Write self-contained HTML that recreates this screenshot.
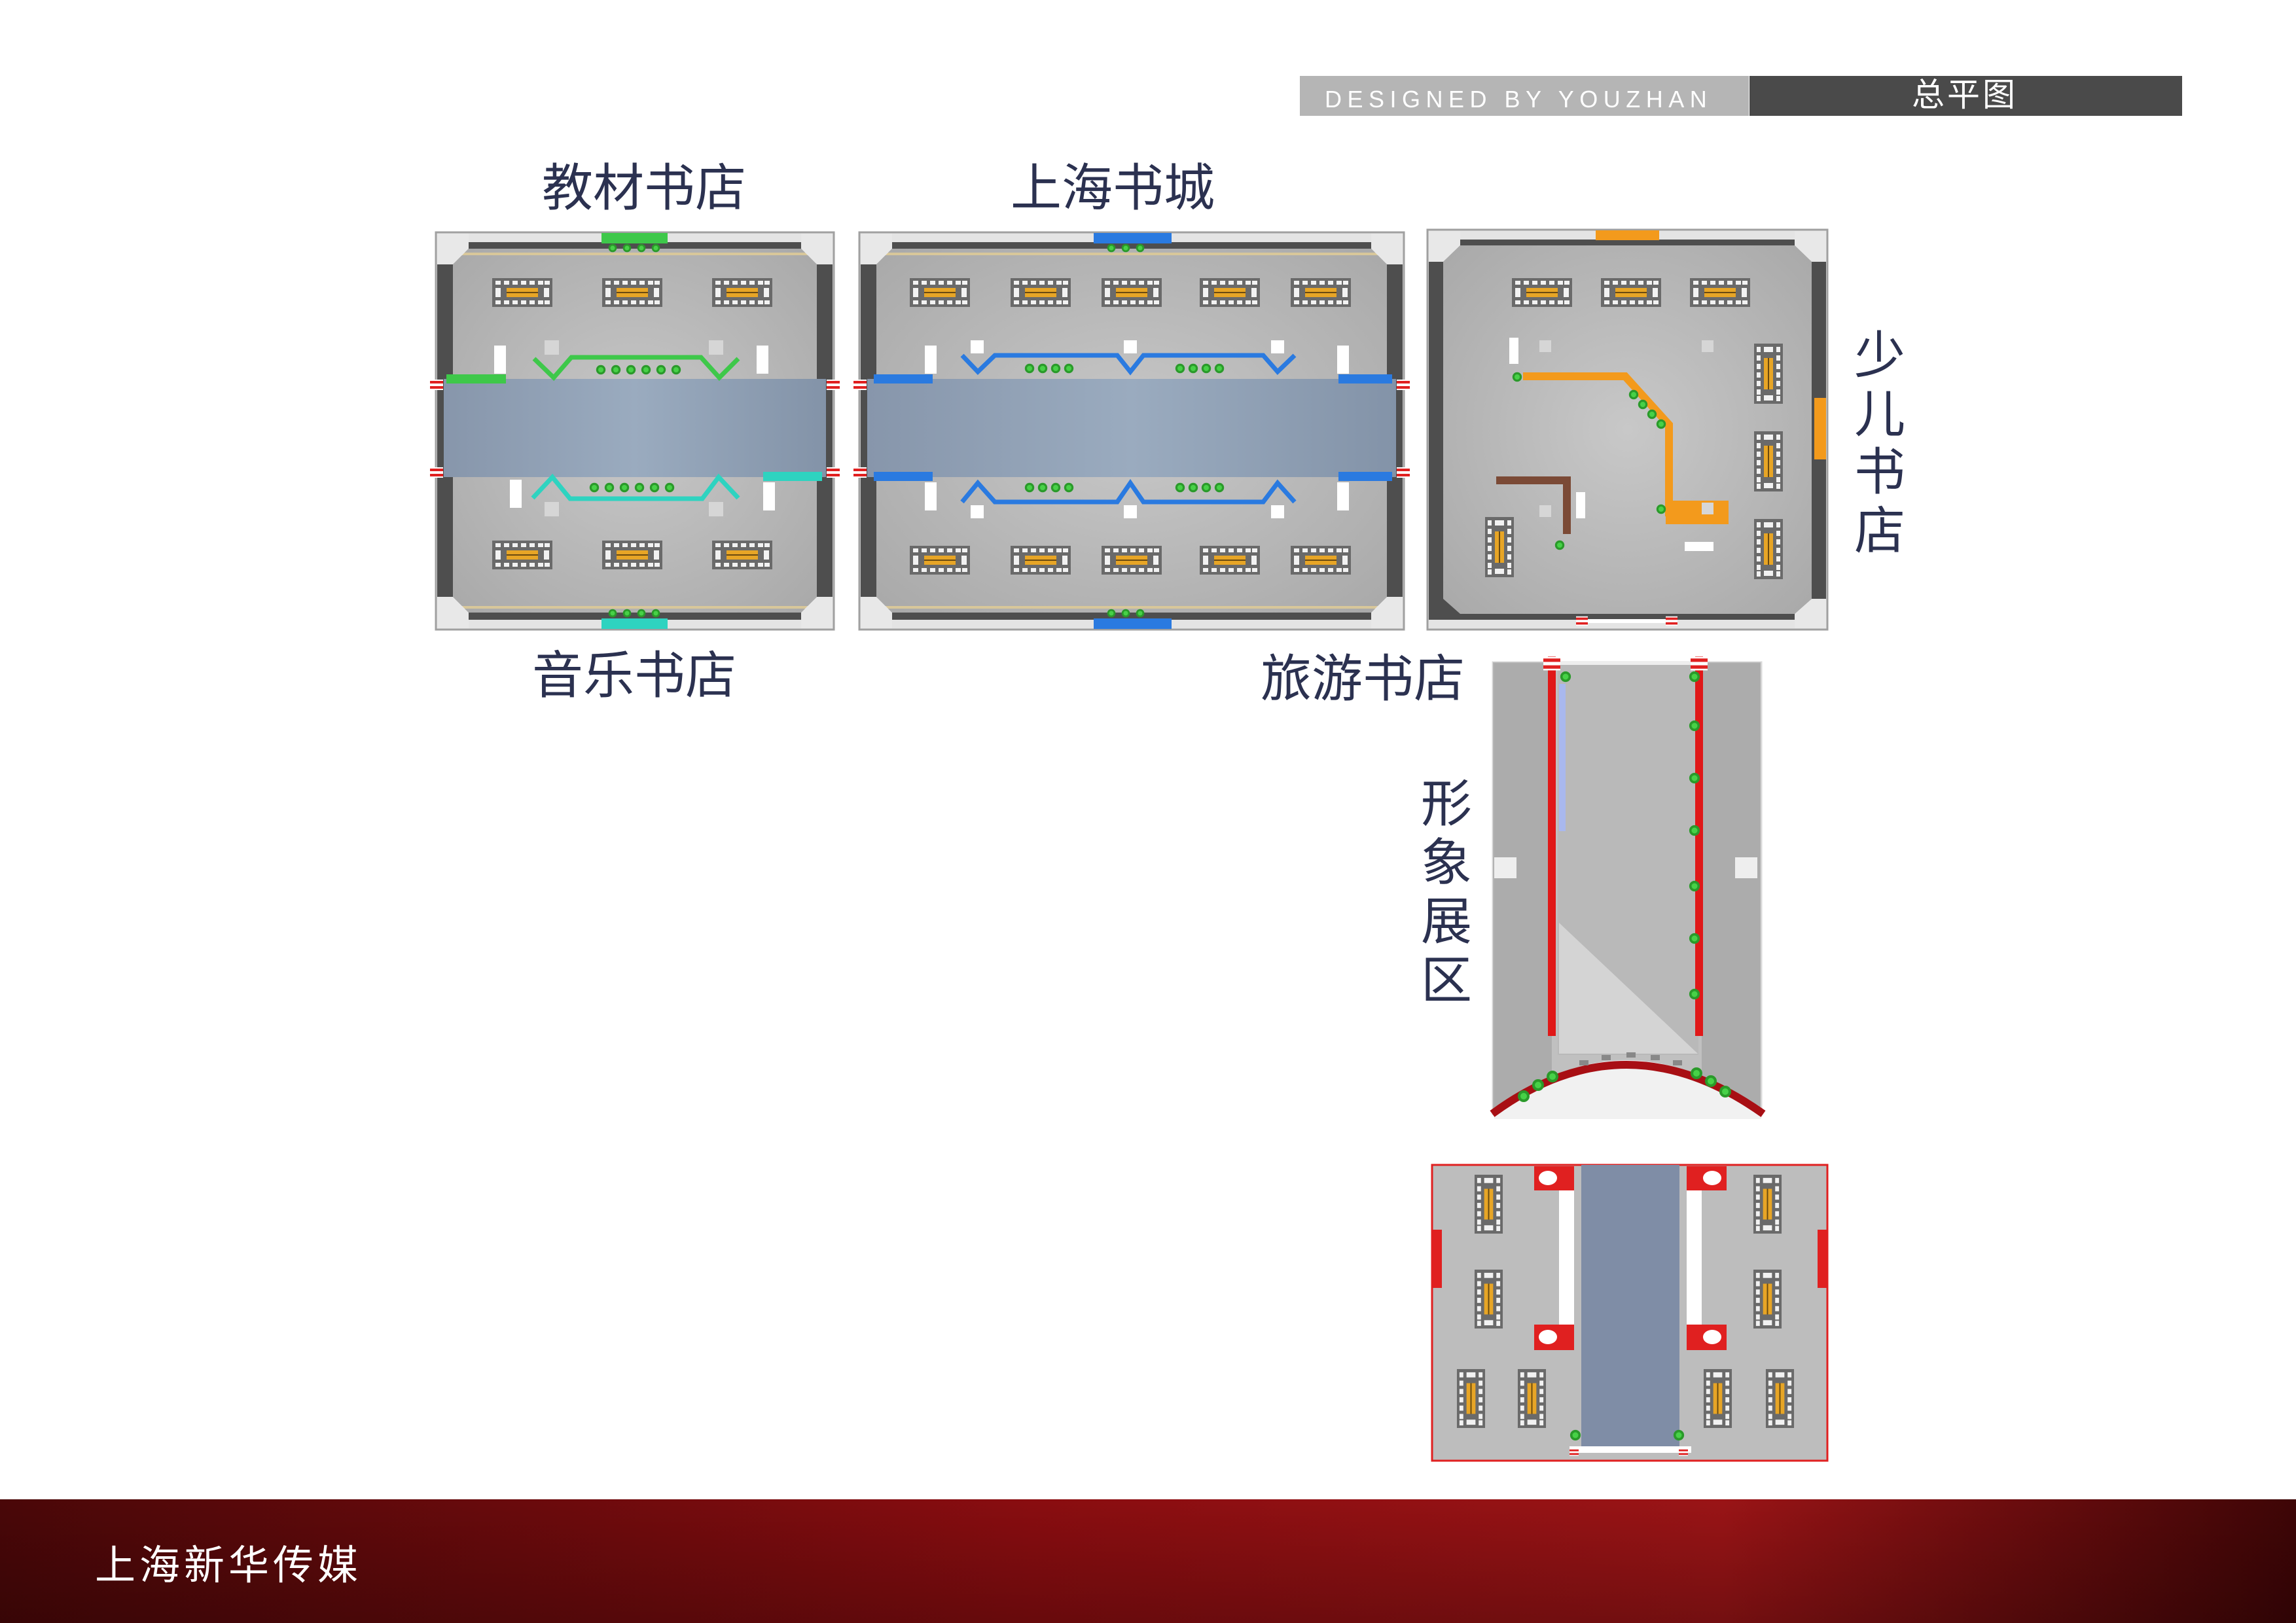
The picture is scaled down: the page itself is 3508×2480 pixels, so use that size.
<!DOCTYPE html>
<html><head><meta charset="utf-8">
<style>
html,body{margin:0;padding:0;background:#fff;}
svg{display:block;}
text{font-family:"Liberation Sans","Noto Sans CJK SC",sans-serif;}
</style></head>
<body>
<svg width="3508" height="2480" viewBox="0 0 3508 2480" xmlns="http://www.w3.org/2000/svg">
<defs>
<linearGradient id="foot" x1="0" x2="1" y1="0" y2="0">
<stop offset="0" stop-color="#4a0708"/><stop offset="0.45" stop-color="#8a0d10"/><stop offset="0.75" stop-color="#9a1416"/><stop offset="1" stop-color="#3e0506"/>
</linearGradient>
<linearGradient id="footv" x1="0" x2="0" y1="0" y2="1">
<stop offset="0" stop-color="#000" stop-opacity="0"/><stop offset="1" stop-color="#000" stop-opacity="0.25"/>
</linearGradient>
<radialGradient id="floor" cx="0.5" cy="0.5" r="0.7">
<stop offset="0" stop-color="#c8c8c8"/><stop offset="1" stop-color="#a9a9a9"/>
</radialGradient>
<linearGradient id="aisle" x1="0" x2="1"><stop offset="0" stop-color="#8796ab"/><stop offset="0.5" stop-color="#9aabbf"/><stop offset="1" stop-color="#8393a8"/></linearGradient>
<symbol id="shH" viewBox="0 0 92 44">
<rect width="92" height="44" fill="#6a6a6a"/>
<g fill="#f2f2f2"><rect x="5" y="4" width="8" height="6"/><rect x="18" y="4" width="8" height="6"/><rect x="31" y="4" width="8" height="6"/><rect x="44" y="4" width="8" height="6"/><rect x="57" y="4" width="8" height="6"/><rect x="70" y="4" width="8" height="6"/><rect x="80" y="4" width="8" height="6"/>
<rect x="5" y="34" width="8" height="6"/><rect x="18" y="34" width="8" height="6"/><rect x="31" y="34" width="8" height="6"/><rect x="44" y="34" width="8" height="6"/><rect x="57" y="34" width="8" height="6"/><rect x="70" y="34" width="8" height="6"/><rect x="80" y="34" width="8" height="6"/>
<rect x="5" y="15" width="8" height="14"/><rect x="79" y="15" width="8" height="14"/></g>
<rect x="22" y="15" width="48" height="14" fill="#e7a526"/>
<rect x="22" y="21" width="48" height="2" fill="#6a4a10"/>
</symbol>
<symbol id="shV" viewBox="0 0 44 92">
<rect width="44" height="92" fill="#6a6a6a"/>
<g fill="#f2f2f2"><rect x="4" y="5" width="6" height="8"/><rect x="4" y="18" width="6" height="8"/><rect x="4" y="31" width="6" height="8"/><rect x="4" y="44" width="6" height="8"/><rect x="4" y="57" width="6" height="8"/><rect x="4" y="70" width="6" height="8"/><rect x="4" y="80" width="6" height="8"/>
<rect x="34" y="5" width="6" height="8"/><rect x="34" y="18" width="6" height="8"/><rect x="34" y="31" width="6" height="8"/><rect x="34" y="44" width="6" height="8"/><rect x="34" y="57" width="6" height="8"/><rect x="34" y="70" width="6" height="8"/><rect x="34" y="80" width="6" height="8"/>
<rect x="15" y="5" width="14" height="8"/><rect x="15" y="79" width="14" height="8"/></g>
<rect x="15" y="22" width="14" height="48" fill="#e7a526"/>
<rect x="21" y="22" width="2" height="48" fill="#6a4a10"/>
</symbol>
<symbol id="tree" viewBox="0 0 20 20"><circle cx="10" cy="10" r="9" fill="#2a9a2a"/><circle cx="10" cy="10" r="5" fill="#47d147"/></symbol>
<symbol id="door" viewBox="0 0 20 16"><rect width="20" height="16" fill="#fff"/><rect y="2" width="20" height="4" fill="#e02020"/><rect y="10" width="20" height="4" fill="#e02020"/></symbol>
</defs>

<!-- header -->
<rect x="1986" y="116" width="686" height="61" fill="#b5b5b5"/>
<text x="2024" y="164" font-size="36" fill="#fff" letter-spacing="8.5">DESIGNED  BY  YOUZHAN</text>
<rect x="2673" y="116" width="661" height="61" fill="#4a4a4a"/>
<text x="3002" y="162" font-size="50" fill="#fff" text-anchor="middle" letter-spacing="4">总平图</text>

<!-- labels -->
<g font-size="78" fill="#2b3150" text-anchor="middle">
<text x="984" y="314">教材书店</text>
<text x="1700" y="314">上海书城</text>
<text x="969" y="1059">音乐书店</text>
<text x="2082" y="1064">旅游书店</text>
<text x="2872" y="570">少</text><text x="2872" y="660">儿</text><text x="2872" y="748">书</text><text x="2872" y="838">店</text>
<text x="2210" y="1255">形</text><text x="2210" y="1345">象</text><text x="2210" y="1435">展</text><text x="2210" y="1525">区</text>
</g>

<!-- Panel A 教材/音乐 -->
<g>
<rect x="666" y="355" width="608" height="607" fill="#e4e4e4" stroke="#a0a0a0" stroke-width="3"/>
<rect x="692" y="370" width="556" height="577" fill="#4e4e4e"/>
<rect x="668" y="380" width="604" height="556" fill="#4e4e4e"/>
<polygon points="716,380 1224,380 1248,404 1248,912 1224,936 716,936 692,912 692,404" fill="url(#floor)"/>
<rect x="698" y="386" width="544" height="4" fill="#d8c79a"/>
<rect x="698" y="926" width="544" height="4" fill="#d8c79a"/>
<rect x="678" y="579" width="584" height="150" fill="url(#aisle)"/>
<rect x="919" y="356" width="101" height="16" fill="#3ec84a"/>
<rect x="919" y="945" width="101" height="16" fill="#2ed3c0"/>
<rect x="682" y="572" width="91" height="14" fill="#3ec84a"/>
<rect x="1166" y="721" width="90" height="14" fill="#2ed3c0"/>
<use href="#door" x="656" y="580" width="22" height="16"/><use href="#door" x="656" y="714" width="22" height="16"/>
<use href="#door" x="1262" y="580" width="22" height="16"/><use href="#door" x="1262" y="714" width="22" height="16"/>
<use href="#shH" x="752" y="425" width="92" height="44"/><use href="#shH" x="920" y="425" width="92" height="44"/><use href="#shH" x="1088" y="425" width="92" height="44"/>
<use href="#shH" x="752" y="826" width="92" height="44"/><use href="#shH" x="920" y="826" width="92" height="44"/><use href="#shH" x="1088" y="826" width="92" height="44"/>
<polyline points="816,548 846,577 873,546 1071,546 1099,577 1128,548" fill="none" stroke="#3ec84a" stroke-width="7"/>
<polyline points="814,761 844,729 871,762 1073,762 1098,729 1128,761" fill="none" stroke="#2ed3c0" stroke-width="7"/>
<g fill="#fff"><rect x="755" y="528" width="18" height="43"/><rect x="1156" y="528" width="18" height="43"/><rect x="779" y="733" width="18" height="43"/><rect x="1166" y="737" width="18" height="43"/></g>
<g fill="#d6d6d6"><rect x="832" y="520" width="22" height="22"/><rect x="1083" y="520" width="22" height="22"/><rect x="832" y="767" width="22" height="22"/><rect x="1083" y="767" width="22" height="22"/></g>
<g><use href="#tree" x="910" y="557" width="16" height="16"/><use href="#tree" x="933" y="557" width="16" height="16"/><use href="#tree" x="956" y="557" width="16" height="16"/><use href="#tree" x="979" y="557" width="16" height="16"/><use href="#tree" x="1002" y="557" width="16" height="16"/><use href="#tree" x="1025" y="557" width="16" height="16"/>
<use href="#tree" x="900" y="737" width="16" height="16"/><use href="#tree" x="923" y="737" width="16" height="16"/><use href="#tree" x="946" y="737" width="16" height="16"/><use href="#tree" x="969" y="737" width="16" height="16"/><use href="#tree" x="992" y="737" width="16" height="16"/><use href="#tree" x="1015" y="737" width="16" height="16"/>
<use href="#tree" x="928" y="372" width="16" height="14"/><use href="#tree" x="950" y="372" width="16" height="14"/><use href="#tree" x="972" y="372" width="16" height="14"/><use href="#tree" x="994" y="372" width="16" height="14"/>
<use href="#tree" x="928" y="930" width="16" height="14"/><use href="#tree" x="950" y="930" width="16" height="14"/><use href="#tree" x="972" y="930" width="16" height="14"/><use href="#tree" x="994" y="930" width="16" height="14"/></g>
<g fill="#e8e8e8"><polygon points="668,357 716,357 716,380 692,404 668,404"/><polygon points="1272,357 1224,357 1224,380 1248,404 1272,404"/><polygon points="668,960 716,960 716,936 692,912 668,912"/><polygon points="1272,960 1224,960 1224,936 1248,912 1272,912"/></g>
</g>

<!-- Panel B 上海书城 -->
<g>
<rect x="1313" y="355" width="832" height="607" fill="#e4e4e4" stroke="#a0a0a0" stroke-width="3"/>
<rect x="1315" y="370" width="828" height="577" fill="#4e4e4e"/>
<polygon points="1363,380 2095,380 2119,404 2119,912 2095,936 1363,936 1339,912 1339,404" fill="url(#floor)"/>
<rect x="1345" y="386" width="768" height="4" fill="#d8c79a"/>
<rect x="1345" y="926" width="768" height="4" fill="#d8c79a"/>
<rect x="1325" y="579" width="808" height="150" fill="url(#aisle)"/>
<rect x="1671" y="356" width="119" height="16" fill="#2a7ae0"/>
<rect x="1671" y="945" width="119" height="16" fill="#2a7ae0"/>
<rect x="1335" y="572" width="90" height="14" fill="#2a7ae0"/><rect x="1335" y="721" width="90" height="14" fill="#2a7ae0"/>
<rect x="2045" y="572" width="82" height="14" fill="#2a7ae0"/><rect x="2045" y="721" width="82" height="14" fill="#2a7ae0"/>
<use href="#door" x="1303" y="580" width="22" height="16"/><use href="#door" x="1303" y="714" width="22" height="16"/>
<use href="#door" x="2133" y="580" width="22" height="16"/><use href="#door" x="2133" y="714" width="22" height="16"/>
<use href="#shH" x="1390" y="425" width="92" height="44"/><use href="#shH" x="1544" y="425" width="92" height="44"/><use href="#shH" x="1683" y="425" width="92" height="44"/><use href="#shH" x="1833" y="425" width="92" height="44"/><use href="#shH" x="1972" y="425" width="92" height="44"/>
<use href="#shH" x="1390" y="834" width="92" height="44"/><use href="#shH" x="1544" y="834" width="92" height="44"/><use href="#shH" x="1683" y="834" width="92" height="44"/><use href="#shH" x="1833" y="834" width="92" height="44"/><use href="#shH" x="1972" y="834" width="92" height="44"/>
<polyline points="1470,543 1494,568 1520,543 1707,543 1727,568 1747,543 1930,543 1952,568 1978,543" fill="none" stroke="#2a7ae0" stroke-width="7"/>
<polyline points="1470,767 1494,738 1520,767 1707,767 1727,738 1747,767 1930,767 1952,738 1978,767" fill="none" stroke="#2a7ae0" stroke-width="7"/>
<g fill="#fff"><rect x="1413" y="528" width="18" height="43"/><rect x="2043" y="528" width="18" height="43"/><rect x="1413" y="737" width="18" height="43"/><rect x="2043" y="737" width="18" height="43"/>
<rect x="1483" y="520" width="20" height="20"/><rect x="1717" y="520" width="20" height="20"/><rect x="1942" y="520" width="20" height="20"/><rect x="1483" y="772" width="20" height="20"/><rect x="1717" y="772" width="20" height="20"/><rect x="1942" y="772" width="20" height="20"/></g>
<g><use href="#tree" x="1565" y="555" width="16" height="16"/><use href="#tree" x="1585" y="555" width="16" height="16"/><use href="#tree" x="1605" y="555" width="16" height="16"/><use href="#tree" x="1625" y="555" width="16" height="16"/>
<use href="#tree" x="1795" y="555" width="16" height="16"/><use href="#tree" x="1815" y="555" width="16" height="16"/><use href="#tree" x="1835" y="555" width="16" height="16"/><use href="#tree" x="1855" y="555" width="16" height="16"/>
<use href="#tree" x="1565" y="737" width="16" height="16"/><use href="#tree" x="1585" y="737" width="16" height="16"/><use href="#tree" x="1605" y="737" width="16" height="16"/><use href="#tree" x="1625" y="737" width="16" height="16"/>
<use href="#tree" x="1795" y="737" width="16" height="16"/><use href="#tree" x="1815" y="737" width="16" height="16"/><use href="#tree" x="1835" y="737" width="16" height="16"/><use href="#tree" x="1855" y="737" width="16" height="16"/>
<use href="#tree" x="1690" y="372" width="16" height="14"/><use href="#tree" x="1712" y="372" width="16" height="14"/><use href="#tree" x="1734" y="372" width="16" height="14"/>
<use href="#tree" x="1690" y="930" width="16" height="14"/><use href="#tree" x="1712" y="930" width="16" height="14"/><use href="#tree" x="1734" y="930" width="16" height="14"/></g>
<g fill="#e8e8e8"><polygon points="1315,357 1363,357 1363,380 1339,404 1315,404"/><polygon points="2143,357 2095,357 2095,380 2119,404 2143,404"/><polygon points="1315,960 1363,960 1363,936 1339,912 1315,912"/><polygon points="2143,960 2095,960 2095,936 2119,912 2143,912"/></g>
</g>

<!-- Panel C 少儿 -->
<g>
<rect x="2181" y="351" width="611" height="611" fill="#e4e4e4" stroke="#a0a0a0" stroke-width="3"/>
<rect x="2183" y="366" width="607" height="581" fill="#4e4e4e"/>
<polygon points="2231,375 2742,375 2768,400 2768,915 2742,938 2231,938 2205,915 2205,400" fill="url(#floor)"/>
<rect x="2438" y="352" width="97" height="15" fill="#f39a1c"/>
<rect x="2772" y="608" width="18" height="94" fill="#f39a1c"/>
<polyline points="2327,575 2483,575 2550,649 2550,783 2625,783" fill="none" stroke="#f39a1c" stroke-width="12"/>
<rect x="2545" y="765" width="96" height="36" fill="#f39a1c"/>
<polyline points="2286,734 2394,734 2394,816" fill="none" stroke="#7b4a36" stroke-width="12"/>
<use href="#shH" x="2310" y="425" width="92" height="44"/><use href="#shH" x="2446" y="425" width="92" height="44"/><use href="#shH" x="2582" y="425" width="92" height="44"/>
<use href="#shV" x="2680" y="525" width="44" height="92"/><use href="#shV" x="2680" y="659" width="44" height="92"/><use href="#shV" x="2680" y="793" width="44" height="92"/>
<use href="#shV" x="2269" y="790" width="44" height="92"/>
<g fill="#fff"><rect x="2306" y="516" width="14" height="40"/><rect x="2408" y="752" width="14" height="40"/><rect x="2574" y="828" width="44" height="14"/></g>
<g fill="#d6d6d6"><rect x="2352" y="520" width="18" height="18"/><rect x="2600" y="520" width="18" height="18"/><rect x="2352" y="772" width="18" height="18"/><rect x="2600" y="768" width="18" height="18"/></g>
<g><use href="#tree" x="2310" y="568" width="16" height="16"/><use href="#tree" x="2488" y="595" width="16" height="16"/><use href="#tree" x="2502" y="610" width="16" height="16"/><use href="#tree" x="2516" y="625" width="16" height="16"/><use href="#tree" x="2530" y="640" width="16" height="16"/><use href="#tree" x="2530" y="770" width="16" height="16"/><use href="#tree" x="2375" y="825" width="16" height="16"/></g>
<use href="#door" x="2408" y="938" width="18" height="22"/><use href="#door" x="2545" y="938" width="18" height="22"/>
<rect x="2426" y="946" width="119" height="6" fill="#fff"/>
<g fill="#e8e8e8"><polygon points="2183,353 2231,353 2231,375 2205,400 2183,400"/><polygon points="2790,353 2742,353 2742,375 2768,400 2790,400"/><polygon points="2790,960 2742,960 2742,938 2768,915 2790,915"/></g>
</g>

<!-- Panel D 形象展区 -->
<g>
<rect x="2281" y="1012" width="410" height="690" fill="#c0c0c0" stroke="#d8d8d8" stroke-width="3"/>
<rect x="2281" y="1012" width="90" height="690" fill="#9e9e9e" opacity="0.6"/>
<rect x="2600" y="1012" width="90" height="690" fill="#9e9e9e" opacity="0.6"/>
<rect x="2380" y="1012" width="215" height="600" fill="#b9b9b9"/>
<polygon points="2382,1410 2594,1610 2382,1610" fill="#d4d4d4"/>
<rect x="2382" y="1045" width="10" height="225" fill="#a9b8ee"/>
<rect x="2365" y="1003" width="12" height="580" fill="#e01818"/>
<rect x="2590" y="1003" width="12" height="580" fill="#e01818"/>
<rect x="2375" y="1010" width="225" height="6" fill="#eee"/>
<use href="#door" x="2358" y="996" width="26" height="36"/><use href="#door" x="2583" y="996" width="26" height="36"/>
<rect x="2283" y="1310" width="34" height="32" fill="#eee"/><rect x="2651" y="1310" width="34" height="32" fill="#eee"/>
<path d="M2283,1700 Q2483,1540 2691,1700 L2691,1710 L2283,1710 Z" fill="#f1f1f1"/>
<path d="M2280,1702 Q2483,1552 2694,1702" fill="none" stroke="#a80f14" stroke-width="12"/>
<g><use href="#tree" x="2580" y="1025" width="18" height="18"/><use href="#tree" x="2580" y="1100" width="18" height="18"/><use href="#tree" x="2580" y="1180" width="18" height="18"/><use href="#tree" x="2580" y="1260" width="18" height="18"/><use href="#tree" x="2580" y="1345" width="18" height="18"/><use href="#tree" x="2580" y="1425" width="18" height="18"/><use href="#tree" x="2580" y="1510" width="18" height="18"/><use href="#tree" x="2383" y="1025" width="18" height="18"/>
<use href="#tree" x="2318" y="1665" width="20" height="20"/><use href="#tree" x="2340" y="1648" width="20" height="20"/><use href="#tree" x="2362" y="1635" width="20" height="20"/><use href="#tree" x="2582" y="1630" width="20" height="20"/><use href="#tree" x="2604" y="1642" width="20" height="20"/><use href="#tree" x="2626" y="1658" width="20" height="20"/></g>
<g fill="#888"><rect x="2413" y="1620" width="14" height="8"/><rect x="2447" y="1612" width="14" height="8"/><rect x="2485" y="1608" width="14" height="8"/><rect x="2522" y="1612" width="14" height="8"/><rect x="2556" y="1620" width="14" height="8"/></g>
</g>

<!-- Panel E -->
<g>
<rect x="2188" y="1780" width="604" height="452" fill="#bdbdbd" stroke="#e02020" stroke-width="3"/>
<rect x="2416" y="1780" width="150" height="440" fill="#7f8da6"/>
<rect x="2188" y="1879" width="15" height="89" fill="#e02020"/><rect x="2777" y="1879" width="15" height="89" fill="#e02020"/>
<g fill="#e02020"><rect x="2344" y="1782" width="61" height="37"/><rect x="2344" y="2024" width="61" height="39"/><rect x="2577" y="1782" width="61" height="37"/><rect x="2577" y="2024" width="61" height="39"/></g>
<g fill="#fff"><ellipse cx="2365" cy="1800" rx="14" ry="11"/><ellipse cx="2365" cy="2043" rx="14" ry="11"/><ellipse cx="2616" cy="1800" rx="14" ry="11"/><ellipse cx="2616" cy="2043" rx="14" ry="11"/>
<rect x="2382" y="1819" width="23" height="205"/><rect x="2577" y="1819" width="23" height="205"/>
<rect x="2398" y="2210" width="186" height="10"/></g>
<use href="#shV" x="2252" y="1795" width="45" height="90"/><use href="#shV" x="2252" y="1940" width="45" height="90"/><use href="#shV" x="2225" y="2092" width="45" height="90"/><use href="#shV" x="2318" y="2092" width="45" height="90"/>
<use href="#shV" x="2678" y="1795" width="45" height="90"/><use href="#shV" x="2678" y="1940" width="45" height="90"/><use href="#shV" x="2602" y="2092" width="45" height="90"/><use href="#shV" x="2697" y="2092" width="45" height="90"/>
<use href="#door" x="2398" y="2208" width="14" height="22"/><use href="#door" x="2565" y="2208" width="14" height="22"/>
<use href="#tree" x="2398" y="2184" width="18" height="18"/><use href="#tree" x="2556" y="2184" width="18" height="18"/>
</g>

<!-- footer -->
<rect x="0" y="2291" width="3508" height="189" fill="url(#foot)"/>
<rect x="0" y="2291" width="3508" height="189" fill="url(#footv)"/>
<text x="145" y="2413" font-size="62" fill="#fff" letter-spacing="6">上海新华传媒</text>
</svg>
</body></html>
